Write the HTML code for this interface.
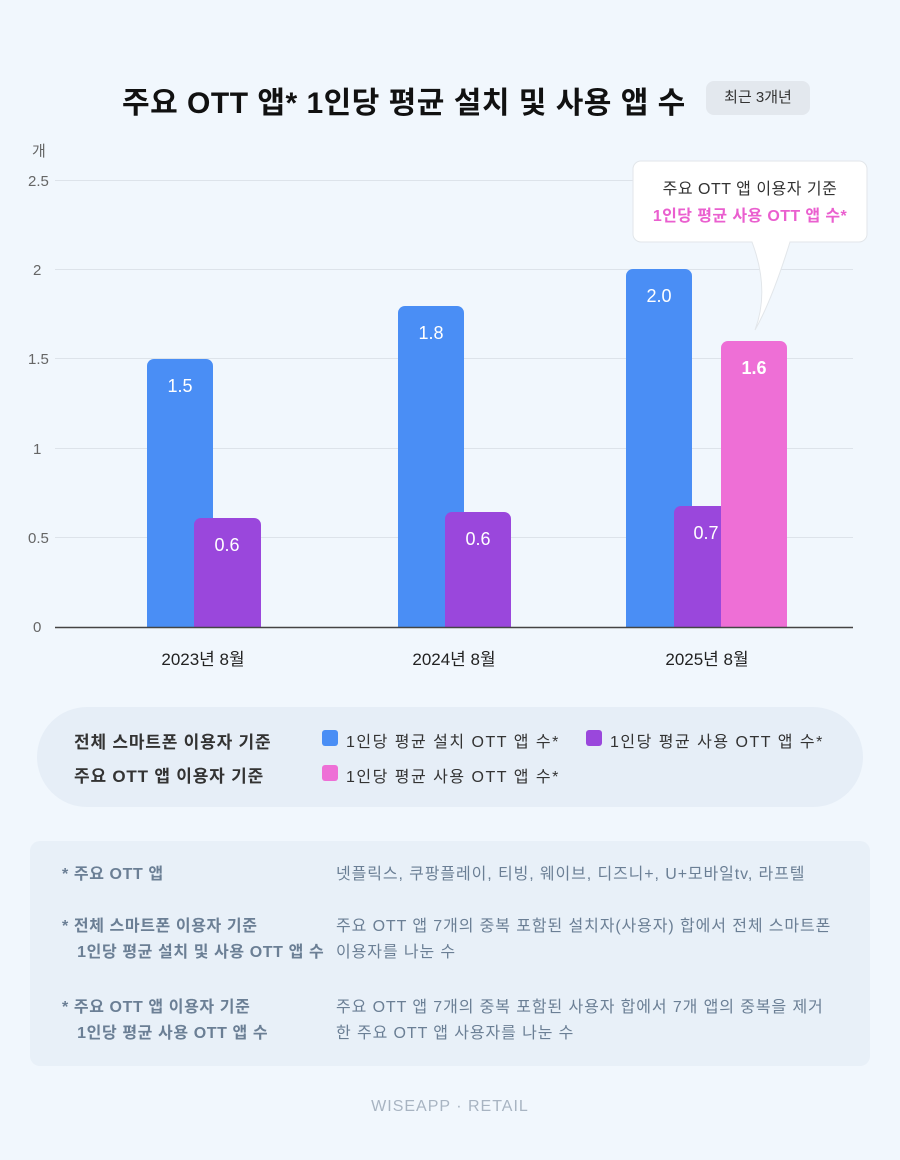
<!DOCTYPE html>
<html><head><meta charset="utf-8"><style>
body{margin:0;width:900px;height:1160px;background:#f1f7fd;font-family:"Liberation Sans","Noto Sans CJK KR",sans-serif;position:relative;overflow:hidden;color:#222}
.a{position:absolute}
.t{white-space:nowrap}
</style></head><body>
<div class="a t" style="left:122px;top:78px;font-size:30px;font-weight:bold;color:#111;letter-spacing:0.5px">주요 OTT 앱* 1인당 평균 설치 및 사용 앱 수</div>
<div class="a t" style="left:706px;top:81px;width:104px;height:34px;border-radius:8px;background:#e3e8ee;font-size:15px;line-height:34px;text-align:center;color:#333">최근 3개년</div>
<div class="a t" style="left:32px;top:140px;font-size:15px;color:#666">개</div>
<svg class="a" style="left:0;top:0" width="900" height="700">
<g stroke="#dde3ea" stroke-width="1">
<line x1="55" x2="853" y1="180.5" y2="180.5"/><line x1="55" x2="853" y1="269.5" y2="269.5"/>
<line x1="55" x2="853" y1="358.5" y2="358.5"/><line x1="55" x2="853" y1="448.5" y2="448.5"/>
<line x1="55" x2="853" y1="537.5" y2="537.5"/></g>
<g font-size="15" fill="#666" font-family="Liberation Sans,sans-serif">
<text x="28" y="186">2.5</text><text x="33" y="275">2</text><text x="28" y="364">1.5</text>
<text x="33" y="454">1</text><text x="28" y="543">0.5</text><text x="33" y="632">0</text></g>
<g>
<path d="M147 627V366a7 7 0 0 1 7-7h52a7 7 0 0 1 7 7V627Z" fill="#4a8ef5"/>
<path d="M194 627V525a7 7 0 0 1 7-7h53a7 7 0 0 1 7 7V627Z" fill="#9a47dc"/>
<path d="M398 627V313a7 7 0 0 1 7-7h52a7 7 0 0 1 7 7V627Z" fill="#4a8ef5"/>
<path d="M445 627V519a7 7 0 0 1 7-7h52a7 7 0 0 1 7 7V627Z" fill="#9a47dc"/>
<path d="M626 627V276a7 7 0 0 1 7-7h52a7 7 0 0 1 7 7V627Z" fill="#4a8ef5"/>
<path d="M674 627V513a7 7 0 0 1 7-7h52a7 7 0 0 1 7 7V627Z" fill="#9a47dc"/>
<path d="M721 627V348a7 7 0 0 1 7-7h52a7 7 0 0 1 7 7V627Z" fill="#ee6fd6"/>
</g>
<line x1="55" x2="853" y1="627.5" y2="627.5" stroke="#444" stroke-width="1.5"/>
<g font-size="18" fill="#fff" text-anchor="middle" font-family="Liberation Sans,sans-serif">
<text x="180" y="392">1.5</text><text x="227" y="551">0.6</text>
<text x="431" y="339">1.8</text><text x="478" y="545">0.6</text>
<text x="659" y="302">2.0</text><text x="706" y="539">0.7</text>
<text x="754" y="374" font-weight="bold">1.6</text></g>
<g font-size="17" fill="#222" text-anchor="middle" font-family="Liberation Sans,'Noto Sans CJK KR',sans-serif">
<text x="203" y="665">2023년 8월</text><text x="454" y="665">2024년 8월</text><text x="707" y="665">2025년 8월</text></g>
<path d="M641 161h218a8 8 0 0 1 8 8v65a8 8 0 0 1-8 8H790Q772 300 755 330Q770 290 752 242H641a8 8 0 0 1-8-8v-65a8 8 0 0 1 8-8Z" fill="#fff" stroke="#e2e6ea"/>
<text x="750" y="194" font-size="16" fill="#333" text-anchor="middle" letter-spacing="0.5" font-family="Liberation Sans,'Noto Sans CJK KR',sans-serif">주요 OTT 앱 이용자 기준</text>
<text x="750" y="221" font-size="16" font-weight="bold" fill="#ea5fcf" text-anchor="middle" letter-spacing="0.4" font-family="Liberation Sans,'Noto Sans CJK KR',sans-serif">1인당 평균 사용 OTT 앱 수*</text>
</svg>
<div class="a" style="left:37px;top:707px;width:826px;height:100px;border-radius:50px;background:#e6eef7"></div>
<div class="a t" style="left:74px;top:728px;font-size:17px;font-weight:bold;color:#333;letter-spacing:0.8px">전체 스마트폰 이용자 기준</div>
<div class="a t" style="left:74px;top:762px;font-size:17px;font-weight:bold;color:#333;letter-spacing:0.8px">주요 OTT 앱 이용자 기준</div>
<div class="a" style="left:322px;top:730px;width:16px;height:16px;border-radius:3px;background:#4a8ef5"></div>
<div class="a t" style="left:346px;top:728px;font-size:16px;color:#333;letter-spacing:1.5px">1인당 평균 설치 OTT 앱 수*</div>
<div class="a" style="left:586px;top:730px;width:16px;height:16px;border-radius:3px;background:#9a47dc"></div>
<div class="a t" style="left:610px;top:728px;font-size:16px;color:#333;letter-spacing:1.5px">1인당 평균 사용 OTT 앱 수*</div>
<div class="a" style="left:322px;top:765px;width:16px;height:16px;border-radius:3px;background:#ee6fd6"></div>
<div class="a t" style="left:346px;top:763px;font-size:16px;color:#333;letter-spacing:1.5px">1인당 평균 사용 OTT 앱 수*</div>
<div class="a" style="left:30px;top:841px;width:840px;height:225px;border-radius:10px;background:#e8f0f8"></div>
<div class="a t" style="left:62px;top:862px;font-size:16px;font-weight:bold;color:#6b7f95;line-height:26px;letter-spacing:0.6px">* 주요 OTT 앱</div>
<div class="a t" style="left:62px;top:914px;font-size:16px;font-weight:bold;color:#6b7f95;line-height:26px;letter-spacing:0.6px">* 전체 스마트폰 이용자 기준<br>&nbsp;&nbsp;&nbsp;1인당 평균 설치 및 사용 OTT 앱 수</div>
<div class="a t" style="left:62px;top:995px;font-size:16px;font-weight:bold;color:#6b7f95;line-height:26px;letter-spacing:0.6px">* 주요 OTT 앱 이용자 기준<br>&nbsp;&nbsp;&nbsp;1인당 평균 사용 OTT 앱 수</div>
<div class="a t" style="left:336px;top:862px;font-size:16px;color:#6b7f95;line-height:26px;letter-spacing:0.9px">넷플릭스, 쿠팡플레이, 티빙, 웨이브, 디즈니+, U+모바일tv, 라프텔</div>
<div class="a t" style="left:336px;top:914px;font-size:16px;color:#6b7f95;line-height:26px;letter-spacing:0.9px">주요 OTT 앱 7개의 중복 포함된 설치자(사용자) 합에서 전체 스마트폰<br>이용자를 나눈 수</div>
<div class="a t" style="left:336px;top:995px;font-size:16px;color:#6b7f95;line-height:26px;letter-spacing:0.9px">주요 OTT 앱 7개의 중복 포함된 사용자 합에서 7개 앱의 중복을 제거<br>한 주요 OTT 앱 사용자를 나눈 수</div>
<div class="a t" style="left:0;width:900px;top:1098px;text-align:center;font-size:16px;color:#a8b4c2;letter-spacing:1px">WISEAPP · RETAIL</div>
</body></html>
